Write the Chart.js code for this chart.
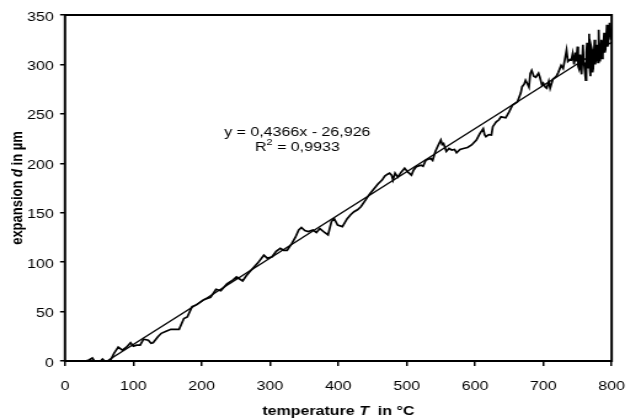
<!DOCTYPE html>
<html>
<head>
<meta charset="utf-8">
<script src="https://cdn.jsdelivr.net/npm/chart.js@4/dist/chart.umd.min.js"></script>
<style>
  html, body { margin: 0; padding: 0; background: #fff; overflow: hidden; }
  /* the reference is stretched sideways, so draw narrow and stretch */
  #wrap { width: 521px; height: 419px; transform: scaleX(1.2303); transform-origin: 0 0; }
</style>
</head>
<body>
<div id="wrap"><canvas id="expChart"></canvas></div>
<script>
// measured temperatures (x) and expansion (y)
const temps = [0,30,35,40,43,52,55,58,66,72,
  78,84,90,96,100,105,110,115,122,126,
  129,136,141,148,155,167,174,179,186,193,
  203,213,221,228,237,246,251,260,265,270,
  282,291,296,303,309,315,320,325,332,337,
  342,346,351,356,363,368,373,380,385,390,
  394,399,406,413,418,423,428,433,440,446,
  452,458,464,468,472,475,478,480,483,487,
  492,497,502,507,510,514,521,524,528,535,
  538,542,546,550,552,554,558,562,566,570,
  573,578,583,589,595,602,607,612,614,616,
  620,624,626,631,635,638,645,650,655,662,
  667,669,672,674,677,679,681,683,686,689,
  693,695,698,700,703,705,708,710,714,719,
  722,726,729,731,734,736,739,741,743,745,
  747,748,750,751,752,754,755,756,758,759,
  760,762,763,764,765,766,767,768,769,770,
  771,772,773,775,776,777,779,780,781,782,
  783,785,786,787,789,790,791,793,794,795,
  797,798,799,800];
const expansion = [0,0,1,3,0,0,2,0,0,8,
  14,11,14,18.5,15,16,16,22,21,18,
  18.5,24.6,28,30,32,32,43,44.5,55,57,
  62,64.4,72.5,71,78,82,85,81,86,90,
  99,107,104,105.5,111,114,112,112,119,125,
  132.5,135,132,131,132.5,130,134,130,127.5,141,
  144,137.6,136,144,148,151,153,156,163,169,
  174,179,183,187,189,190,188,183,190,186,
  191,195,191,188,193,196.5,198,197,203,205,
  203,212,218,223.5,219,220,212,215,213.4,214,
  210.7,214,215,216,218.5,223.5,230,235,229,227,
  229,228.6,237,242,244,247,246,252,259,262,
  271,277.5,280,284,280,277,291,294,288,287,
  291,287,279,281,277,276,283,276,285,288,
  292,299,296,303,314.6,303,305,304.5,311,300,
  312,303,318,298,296,310,295,290,320,302,
  298,284,312,322,296,300,331,296,288,318,
  315,292,296,325,300,305,320,302,335,310,
  303,325,306,310,332,312,315,340,318,322,
  342,336,325,335];

// linear trendline end points (y = 0,4366x - 26,926)
const trendX = [61.7, 800];
const trendY = [0, 322.35];

const xTicks = [0, 100, 200, 300, 400, 500, 600, 700, 800];
const yTicks = [0, 50, 100, 150, 200, 250, 300, 350];

const eqLines = ['y = 0,4366x - 26,926', 'R', ' = 0,9933'];

const FONT = '"Liberation Sans", Arial, sans-serif';

// frame + axis titles + equation
const decorPlugin = {
  id: 'decor',
  afterDatasetsDraw(chart) {
    const ctx = chart.ctx;
    const a = chart.chartArea;
    const xs = chart.scales.x, ys = chart.scales.y;
    ctx.save();
    ctx.strokeStyle = '#000';
    ctx.lineWidth = 2;
    ctx.strokeRect(a.left, a.top, a.right - a.left, a.bottom - a.top);

    ctx.fillStyle = '#000';
    ctx.textBaseline = 'middle';

    // x title with italic T
    drawParts(ctx, [
      ['temperature ', 'bold'],
      ['T', 'italic bold'],
      ['  in °C', 'bold']
    ], (a.left + a.right) / 2, 411);

    // y title with italic d
    ctx.save();
    ctx.translate(14, (a.top + a.bottom) / 2);
    ctx.rotate(-Math.PI / 2);
    drawParts(ctx, [
      ['expansion ', 'bold'],
      ['d', 'italic bold'],
      [' in µm', 'bold']
    ], 0, 0);
    ctx.restore();

    // trendline equation
    const cx = xs.getPixelForValue(340);
    const y1 = ys.getPixelForValue(231);
    ctx.font = '13px ' + FONT;
    ctx.textAlign = 'center';
    ctx.fillText(eqLines[0], cx, y1);
    const y2 = y1 + 15;
    const wR = ctx.measureText(eqLines[1]).width;
    ctx.font = '9px ' + FONT;
    const wS = ctx.measureText('2').width;
    ctx.font = '13px ' + FONT;
    const wRest = ctx.measureText(eqLines[2]).width;
    let x0 = cx - (wR + wS + wRest) / 2;
    ctx.textAlign = 'left';
    ctx.fillText(eqLines[1], x0, y2);
    ctx.font = '9px ' + FONT;
    ctx.fillText('2', x0 + wR, y2 - 5);
    ctx.font = '13px ' + FONT;
    ctx.fillText(eqLines[2], x0 + wR + wS, y2);
    ctx.restore();
  }
};

function drawParts(ctx, parts, cx, cy) {
  let total = 0;
  parts.forEach(function(p) {
    ctx.font = p[1] + ' 13px ' + FONT;
    total += ctx.measureText(p[0]).width;
  });
  let x = cx - total / 2;
  ctx.textAlign = 'left';
  parts.forEach(function(p) {
    ctx.font = p[1] + ' 13px ' + FONT;
    ctx.fillText(p[0], x, cy);
    x += ctx.measureText(p[0]).width;
  });
}

const points = temps.map(function(t, i) { return { x: t, y: expansion[i] }; });
const trend = trendX.map(function(t, i) { return { x: t, y: trendY[i] }; });

new Chart(document.getElementById('expChart'), {
  type: 'scatter',
  data: {
    datasets: [{
      data: points,
      showLine: true,
      borderColor: '#000',
      borderWidth: 1.7,
      pointRadius: 0,
      tension: 0
    }, {
      data: trend,
      showLine: true,
      borderColor: '#000',
      borderWidth: 1.3,
      pointRadius: 0
    }]
  },
  options: {
    responsive: true,
    maintainAspectRatio: false,
    animation: false,
    layout: { padding: { top: 15, right: 14.6, left: 0, bottom: 0 } },
    plugins: {
      legend: { display: false },
      tooltip: { enabled: false }
    },
    scales: {
      x: {
        type: 'linear',
        min: 0,
        max: 800,
        afterBuildTicks: function(s) { s.ticks = xTicks.map(function(v) { return { value: v }; }); },
        afterFit: function(s) { s.height = 58; },
        border: { display: false },
        grid: { drawOnChartArea: false, drawTicks: true, tickLength: 5, color: '#000', lineWidth: 1.5 },
        ticks: { color: '#000', font: { family: FONT, size: 13 }, padding: 13, maxRotation: 0 }
      },
      y: {
        type: 'linear',
        min: 0,
        max: 350,
        afterBuildTicks: function(s) { s.ticks = yTicks.map(function(v) { return { value: v }; }); },
        afterFit: function(s) { s.width = 52.8; },
        border: { display: false },
        grid: { drawOnChartArea: false, drawTicks: true, tickLength: 4, color: '#000', lineWidth: 1.5 },
        ticks: { color: '#000', font: { family: FONT, size: 13 }, padding: 5, labelOffset: 2 }
      }
    }
  },
  plugins: [decorPlugin]
});
</script>
</body>
</html>
